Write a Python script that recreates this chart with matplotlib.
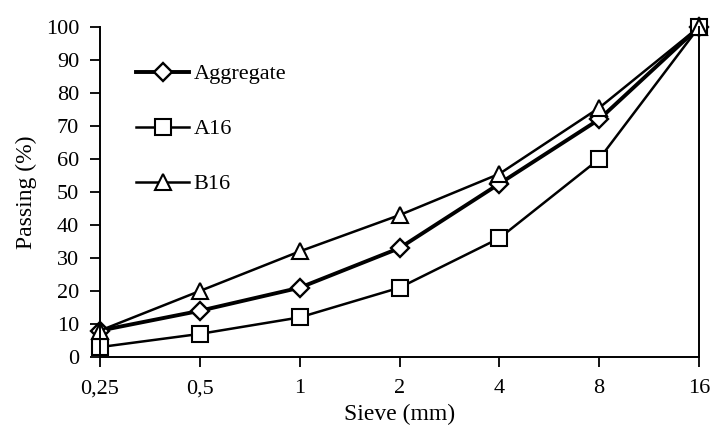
import matplotlib
matplotlib.use("Agg")
import matplotlib.pyplot as plt

sieves = ["0,25", "0,5", "1", "2", "4", "8", "16"]
aggregate = [8, 14, 21, 33, 52.5, 72, 100]
a16 = [3, 7, 12, 21, 36, 60, 100]
b16 = [8, 20, 32, 43, 55.5, 75.5, 100]
yticks = list(range(0, 101, 10))

plt.rcParams['font.family'] = ['Liberation Serif', 'DejaVu Serif']

fig = plt.figure(figsize=(7.16, 4.37), dpi=100)
ax = fig.add_axes([100/716, 1-357/437, 599/716, 330/437])
x = list(range(len(sieves)))

ax.plot(x, aggregate, color='black', lw=2.8, marker='D', ms=9, mfc='white', mec='black', mew=1.7, label='Aggregate')
ax.plot(x, a16, color='black', lw=1.8, marker='s', ms=12, mfc='white', mec='black', mew=1.5, label='A16')
ax.plot(x, b16, color='black', lw=1.8, marker='^', ms=12, mfc='white', mec='black', mew=1.5, label='B16')

ax.set_xlim(0, 6)
ax.set_ylim(0, 100)
ax.set_xticks(x)
ax.set_xticklabels(sieves)
ax.set_yticks(yticks)
ax.tick_params(axis='both', labelsize=16, direction='out', length=7, width=1.3)
ax.tick_params(axis='x', pad=9)
ax.tick_params(axis='y', pad=8)
ax.spines['top'].set_visible(False)
for s in ['left', 'bottom', 'right']:
    ax.spines[s].set_linewidth(1.4)
ax.set_xlabel('Sieve (mm)', fontsize=17, labelpad=4)
ax.set_ylabel('Passing (%)', fontsize=17, labelpad=6)

leg = ax.legend(loc='upper left', bbox_to_anchor=(0.045, 0.915), frameon=False,
                fontsize=16, handlelength=2.4, labelspacing=1.55, handletextpad=0.2,
                borderaxespad=0)
for l in ax.spines.values():
    l.set_clip_on(False)
for line in ax.lines:
    line.set_clip_on(False)

fig.savefig('out.png', dpi=100)
